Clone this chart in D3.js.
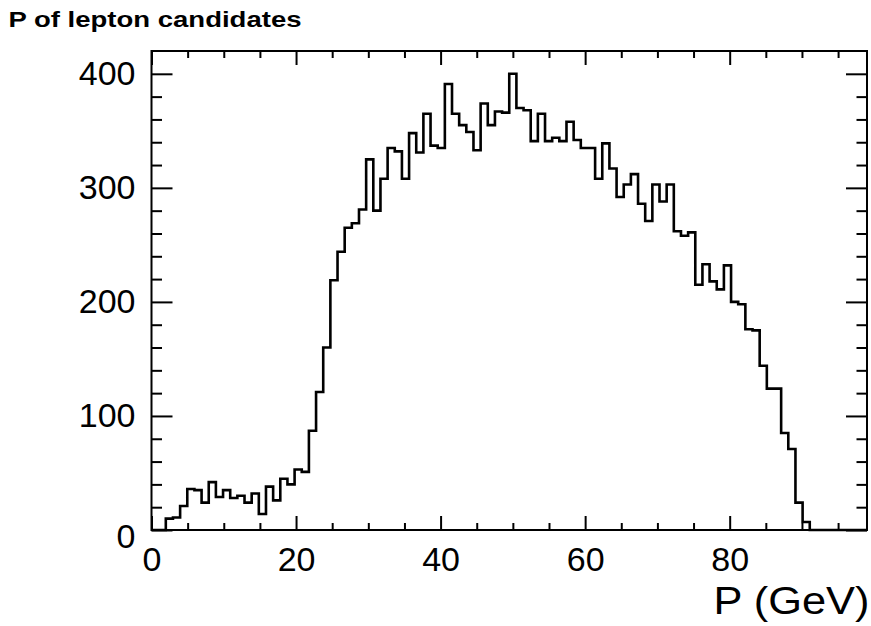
<!DOCTYPE html>
<html>
<head>
<meta charset="utf-8">
<script src="https://cdn.jsdelivr.net/npm/d3@7"></script>
<style>
  html, body { margin: 0; padding: 0; background: #fff; }
  svg { display: block; }
  text { font-family: "Liberation Sans", Arial, Helvetica, sans-serif; fill: #000; }
</style>
</head>
<body>
<svg id="chart" width="871" height="626"></svg>
<script>
// Histogram: 100 bins of width 0.99 GeV over [0, 99]
const binLow = 0;
const binHigh = 99;
const binCounts = [
  0, 0, 10, 11, 21, 36, 35, 24, 42, 29,
  35, 28, 30, 24, 32, 14, 38, 26, 45, 40,
  53, 51, 87, 121, 160, 219, 244, 265, 269, 281,
  325, 280, 308, 335, 332, 308, 348, 331, 365, 337,
  335, 391, 365, 355, 349, 333, 374, 355, 367, 366,
  400, 370, 368, 341, 365, 341, 344, 341, 358, 342,
  335, 335, 308, 339, 317, 292, 303, 312, 286, 271,
  303, 288, 303, 262, 258, 261, 215, 233, 218, 211,
  232, 200, 198, 176, 175, 144, 124, 124, 85, 71,
  24, 7, 0, 0, 0, 0, 0, 0, 0, 0
];
const xMajorTicks = [0, 20, 40, 60, 80];
const yMajorTicks = [0, 100, 200, 300, 400];
const yMax = 420;
const titleText = "P of lepton candidates";
const xTitleText = "P (GeV)";

const svg = d3.select("#chart");
const frame = { left: 151.5, right: 867, top: 51, bottom: 530 };

const x = d3.scaleLinear().domain([binLow, binHigh]).range([frame.left, frame.right]);
const y = d3.scaleLinear().domain([0, yMax]).range([frame.bottom, frame.top]);

const binWidth = (binHigh - binLow) / binCounts.length;
const xMinor = d3.range(0, binHigh + 0.001, 5).filter(v => v % 20 !== 0);
const yMinor = d3.range(0, yMax + 0.001, 20).filter(v => v % 100 !== 0 && v < yMax);

const stroke = "#000";
const lw = 2;

// Histogram outline as a step path
let p = d3.path();
p.moveTo(x(binLow), y(0));
binCounts.forEach((c, i) => {
  const x0 = x(binLow + i * binWidth);
  const x1 = x(binLow + (i + 1) * binWidth);
  p.lineTo(x0, y(c));
  p.lineTo(x1, y(c));
});
p.lineTo(x(binHigh), y(0));
svg.append("path")
  .attr("d", p.toString())
  .attr("fill", "none")
  .attr("stroke", stroke)
  .attr("stroke-width", 2.6)
  .attr("stroke-linejoin", "miter");

function styleAxis(g) {
  g.select(".domain").remove();
  g.selectAll(".tick line").attr("stroke", stroke).attr("stroke-width", lw);
  g.selectAll(".tick text").attr("font-size", 34).attr("fill", "#000")
    .attr("font-family", "'Liberation Sans', Arial, Helvetica, sans-serif");
}

// Bottom axis (ticks point into the frame)
svg.append("g").attr("transform", `translate(0,${frame.bottom})`)
  .call(d3.axisBottom(x).tickValues(xMajorTicks).tickSize(-14).tickPadding(17).tickFormat(d3.format("d")))
  .call(styleAxis);
svg.append("g").attr("transform", `translate(0,${frame.bottom})`)
  .call(d3.axisBottom(x).tickValues(xMinor).tickSize(-7).tickFormat(""))
  .call(styleAxis);
// Top axis mirror ticks
svg.append("g").attr("transform", `translate(0,${frame.top})`)
  .call(d3.axisTop(x).tickValues(xMajorTicks).tickSize(-14).tickFormat(""))
  .call(styleAxis);
svg.append("g").attr("transform", `translate(0,${frame.top})`)
  .call(d3.axisTop(x).tickValues(xMinor).tickSize(-7).tickFormat(""))
  .call(styleAxis);

// Left axis
const leftAxis = svg.append("g").attr("transform", `translate(${frame.left},0)`)
  .call(d3.axisLeft(y).tickValues(yMajorTicks).tickSize(-21).tickPadding(16).tickFormat(d3.format("d")))
  .call(styleAxis);
// the zero label sits a little below its tick, clear of the x labels
leftAxis.selectAll(".tick text").filter(d => d === 0).attr("dy", "0.52em");
svg.append("g").attr("transform", `translate(${frame.left},0)`)
  .call(d3.axisLeft(y).tickValues(yMinor).tickSize(-10.5).tickFormat(""))
  .call(styleAxis);
// Right axis mirror ticks
svg.append("g").attr("transform", `translate(${frame.right},0)`)
  .call(d3.axisRight(y).tickValues(yMajorTicks).tickSize(-21).tickFormat(""))
  .call(styleAxis);
svg.append("g").attr("transform", `translate(${frame.right},0)`)
  .call(d3.axisRight(y).tickValues(yMinor).tickSize(-10.5).tickFormat(""))
  .call(styleAxis);

// Frame
svg.append("rect")
  .attr("x", frame.left).attr("y", frame.top)
  .attr("width", frame.right - frame.left).attr("height", frame.bottom - frame.top)
  .attr("fill", "none").attr("stroke", stroke).attr("stroke-width", lw);

// Title
svg.append("text")
  .attr("x", 8.5).attr("y", 26.7)
  .attr("font-size", 22).attr("font-weight", "bold")
  .attr("textLength", 293).attr("lengthAdjust", "spacingAndGlyphs")
  .text(titleText);

// X axis title, right-aligned to the frame
svg.append("text")
  .attr("x", 713.5).attr("y", 613.5)
  .attr("font-size", 39.5)
  .attr("textLength", 156).attr("lengthAdjust", "spacingAndGlyphs")
  .text(xTitleText);
</script>
</body>
</html>
